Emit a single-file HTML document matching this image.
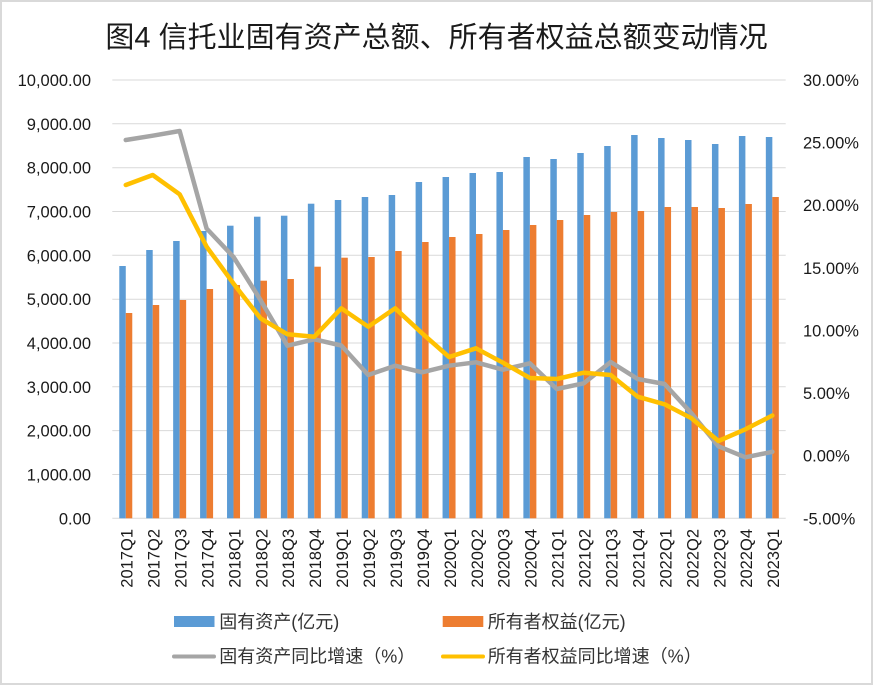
<!DOCTYPE html>
<html>
<head>
<meta charset="utf-8">
<style>
html,body{margin:0;padding:0;background:#fff;}
svg{display:block;}
</style>
</head>
<body>
<svg width="873" height="685" viewBox="0 0 873 685" xmlns="http://www.w3.org/2000/svg">
<rect x="1" y="1" width="871" height="683" fill="#fff" stroke="#d9d9d9" stroke-width="2"/>
<text x="436.5" y="47" text-anchor="middle" font-family="'Liberation Sans','Noto Sans CJK SC',sans-serif" font-size="29" fill="#1a1a1a">图4 信托业固有资产总额、所有者权益总额变动情况</text>

<g stroke="#d9d9d9" stroke-width="1">
<line x1="112.3" y1="80" x2="785.7" y2="80"/>
<line x1="112.3" y1="123.8" x2="785.7" y2="123.8"/>
<line x1="112.3" y1="167.7" x2="785.7" y2="167.7"/>
<line x1="112.3" y1="211.5" x2="785.7" y2="211.5"/>
<line x1="112.3" y1="255.3" x2="785.7" y2="255.3"/>
<line x1="112.3" y1="299.2" x2="785.7" y2="299.2"/>
<line x1="112.3" y1="343" x2="785.7" y2="343"/>
<line x1="112.3" y1="386.8" x2="785.7" y2="386.8"/>
<line x1="112.3" y1="430.6" x2="785.7" y2="430.6"/>
<line x1="112.3" y1="474.5" x2="785.7" y2="474.5"/>
<line x1="112.3" y1="518.3" x2="785.7" y2="518.3"/>
</g>

<g font-family="'Liberation Sans',sans-serif" font-size="16.5" fill="#1a1a1a" text-anchor="end">
<text x="91" y="86">10,000.00</text>
<text x="91" y="129.8">9,000.00</text>
<text x="91" y="173.7">8,000.00</text>
<text x="91" y="217.5">7,000.00</text>
<text x="91" y="261.3">6,000.00</text>
<text x="91" y="305.2">5,000.00</text>
<text x="91" y="349">4,000.00</text>
<text x="91" y="392.8">3,000.00</text>
<text x="91" y="436.6">2,000.00</text>
<text x="91" y="480.5">1,000.00</text>
<text x="91" y="524.3">0.00</text>
</g>

<g font-family="'Liberation Sans',sans-serif" font-size="16.5" fill="#1a1a1a" text-anchor="start">
<text x="803" y="86">30.00%</text>
<text x="803" y="148.6">25.00%</text>
<text x="803" y="211.2">20.00%</text>
<text x="803" y="273.8">15.00%</text>
<text x="803" y="336.4">10.00%</text>
<text x="803" y="399">5.00%</text>
<text x="803" y="461.7">0.00%</text>
<text x="803" y="524.3">-5.00%</text>
</g>

<g fill="#5b9bd5">
<rect x="119.27" y="266" width="6.5" height="252.3"/>
<rect x="146.21" y="250" width="6.5" height="268.3"/>
<rect x="173.15" y="241" width="6.5" height="277.3"/>
<rect x="200.09" y="231" width="6.5" height="287.3"/>
<rect x="227.03" y="225.7" width="6.5" height="292.6"/>
<rect x="253.97" y="216.7" width="6.5" height="301.6"/>
<rect x="280.91" y="215.7" width="6.5" height="302.6"/>
<rect x="307.85" y="203.7" width="6.5" height="314.6"/>
<rect x="334.79" y="200" width="6.5" height="318.3"/>
<rect x="361.73" y="197" width="6.5" height="321.3"/>
<rect x="388.67" y="195" width="6.5" height="323.3"/>
<rect x="415.61" y="182" width="6.5" height="336.3"/>
<rect x="442.55" y="177" width="6.5" height="341.3"/>
<rect x="469.49" y="173" width="6.5" height="345.3"/>
<rect x="496.43" y="172" width="6.5" height="346.3"/>
<rect x="523.37" y="157" width="6.5" height="361.3"/>
<rect x="550.31" y="159" width="6.5" height="359.3"/>
<rect x="577.25" y="153" width="6.5" height="365.3"/>
<rect x="604.19" y="146" width="6.5" height="372.3"/>
<rect x="631.13" y="135" width="6.5" height="383.3"/>
<rect x="658.07" y="138" width="6.5" height="380.3"/>
<rect x="685.01" y="140" width="6.5" height="378.3"/>
<rect x="711.95" y="144" width="6.5" height="374.3"/>
<rect x="738.89" y="136" width="6.5" height="382.3"/>
<rect x="765.83" y="137" width="6.5" height="381.3"/>
</g>
<g fill="#ed7d31">
<rect x="125.77" y="313" width="6.5" height="205.3"/>
<rect x="152.71" y="305" width="6.5" height="213.3"/>
<rect x="179.65" y="300" width="6.5" height="218.3"/>
<rect x="206.59" y="289" width="6.5" height="229.3"/>
<rect x="233.53" y="285" width="6.5" height="233.3"/>
<rect x="260.47" y="280.7" width="6.5" height="237.6"/>
<rect x="287.41" y="279" width="6.5" height="239.3"/>
<rect x="314.35" y="266.7" width="6.5" height="251.6"/>
<rect x="341.29" y="257.7" width="6.5" height="260.6"/>
<rect x="368.23" y="257" width="6.5" height="261.3"/>
<rect x="395.17" y="251" width="6.5" height="267.3"/>
<rect x="422.11" y="242" width="6.5" height="276.3"/>
<rect x="449.05" y="237" width="6.5" height="281.3"/>
<rect x="475.99" y="234" width="6.5" height="284.3"/>
<rect x="502.93" y="230" width="6.5" height="288.3"/>
<rect x="529.87" y="225" width="6.5" height="293.3"/>
<rect x="556.81" y="220" width="6.5" height="298.3"/>
<rect x="583.75" y="215" width="6.5" height="303.3"/>
<rect x="610.69" y="212" width="6.5" height="306.3"/>
<rect x="637.63" y="211" width="6.5" height="307.3"/>
<rect x="664.57" y="207" width="6.5" height="311.3"/>
<rect x="691.51" y="207" width="6.5" height="311.3"/>
<rect x="718.45" y="208" width="6.5" height="310.3"/>
<rect x="745.39" y="204" width="6.5" height="314.3"/>
<rect x="772.33" y="197" width="6.5" height="321.3"/>
</g>

<polyline fill="none" stroke="#a5a5a5" stroke-width="4.5" stroke-linejoin="round" stroke-linecap="round"
points="125.77,140 152.71,135.7 179.65,131 206.59,228.5 233.53,257 260.47,300 287.41,345.7 314.35,339.3 341.29,345.5 368.23,375 395.17,365.7 422.11,372.3 449.05,365.7 475.99,362.3 502.93,369.7 529.87,363.3 556.81,389 583.75,383.3 610.69,362 637.63,379 664.57,384 691.51,413.3 718.45,446.3 745.39,457.3 772.33,451.8"/>
<polyline fill="none" stroke="#ffc000" stroke-width="4.5" stroke-linejoin="round" stroke-linecap="round"
points="125.77,185 152.71,175 179.65,194.3 206.59,246.7 233.53,283.6 260.47,318.3 287.41,334.3 314.35,336.7 341.29,308.3 368.23,326.7 395.17,308.3 422.11,333.3 449.05,357 475.99,348.3 502.93,362.7 529.87,378 556.81,379 583.75,372.7 610.69,375 637.63,396.7 664.57,404.3 691.51,418.3 718.45,441 745.39,429.3 772.33,415.5"/>

<g font-family="'Liberation Sans',sans-serif" font-size="16.5" fill="#1a1a1a" text-anchor="end">
<text transform="translate(132.6,529) rotate(-90)">2017Q1</text>
<text transform="translate(159.5,529) rotate(-90)">2017Q2</text>
<text transform="translate(186.5,529) rotate(-90)">2017Q3</text>
<text transform="translate(213.4,529) rotate(-90)">2017Q4</text>
<text transform="translate(240.3,529) rotate(-90)">2018Q1</text>
<text transform="translate(267.3,529) rotate(-90)">2018Q2</text>
<text transform="translate(294.2,529) rotate(-90)">2018Q3</text>
<text transform="translate(321.2,529) rotate(-90)">2018Q4</text>
<text transform="translate(348.1,529) rotate(-90)">2019Q1</text>
<text transform="translate(375.0,529) rotate(-90)">2019Q2</text>
<text transform="translate(402.0,529) rotate(-90)">2019Q3</text>
<text transform="translate(428.9,529) rotate(-90)">2019Q4</text>
<text transform="translate(455.9,529) rotate(-90)">2020Q1</text>
<text transform="translate(482.8,529) rotate(-90)">2020Q2</text>
<text transform="translate(509.7,529) rotate(-90)">2020Q3</text>
<text transform="translate(536.7,529) rotate(-90)">2020Q4</text>
<text transform="translate(563.6,529) rotate(-90)">2021Q1</text>
<text transform="translate(590.6,529) rotate(-90)">2021Q2</text>
<text transform="translate(617.5,529) rotate(-90)">2021Q3</text>
<text transform="translate(644.4,529) rotate(-90)">2021Q4</text>
<text transform="translate(671.4,529) rotate(-90)">2022Q1</text>
<text transform="translate(698.3,529) rotate(-90)">2022Q2</text>
<text transform="translate(725.3,529) rotate(-90)">2022Q3</text>
<text transform="translate(752.2,529) rotate(-90)">2022Q4</text>
<text transform="translate(779.1,529) rotate(-90)">2023Q1</text>
</g>

<rect x="174" y="616" width="40.5" height="11" fill="#5b9bd5"/>
<rect x="442.7" y="616" width="40.6" height="11" fill="#ed7d31"/>
<line x1="174" y1="656.5" x2="214" y2="656.5" stroke="#a5a5a5" stroke-width="4" stroke-linecap="round"/>
<line x1="443" y1="656.5" x2="483" y2="656.5" stroke="#ffc000" stroke-width="4" stroke-linecap="round"/>
<g font-family="'Liberation Sans','Noto Sans CJK SC',sans-serif" font-size="18" fill="#333">
<text x="219.3" y="628">固有资产(亿元)</text>
<text x="487.7" y="628">所有者权益(亿元)</text>
<text x="219.3" y="662.5">固有资产同比增速（%）</text>
<text x="487.7" y="662.5">所有者权益同比增速（%）</text>
</g>
</svg>
</body>
</html>
